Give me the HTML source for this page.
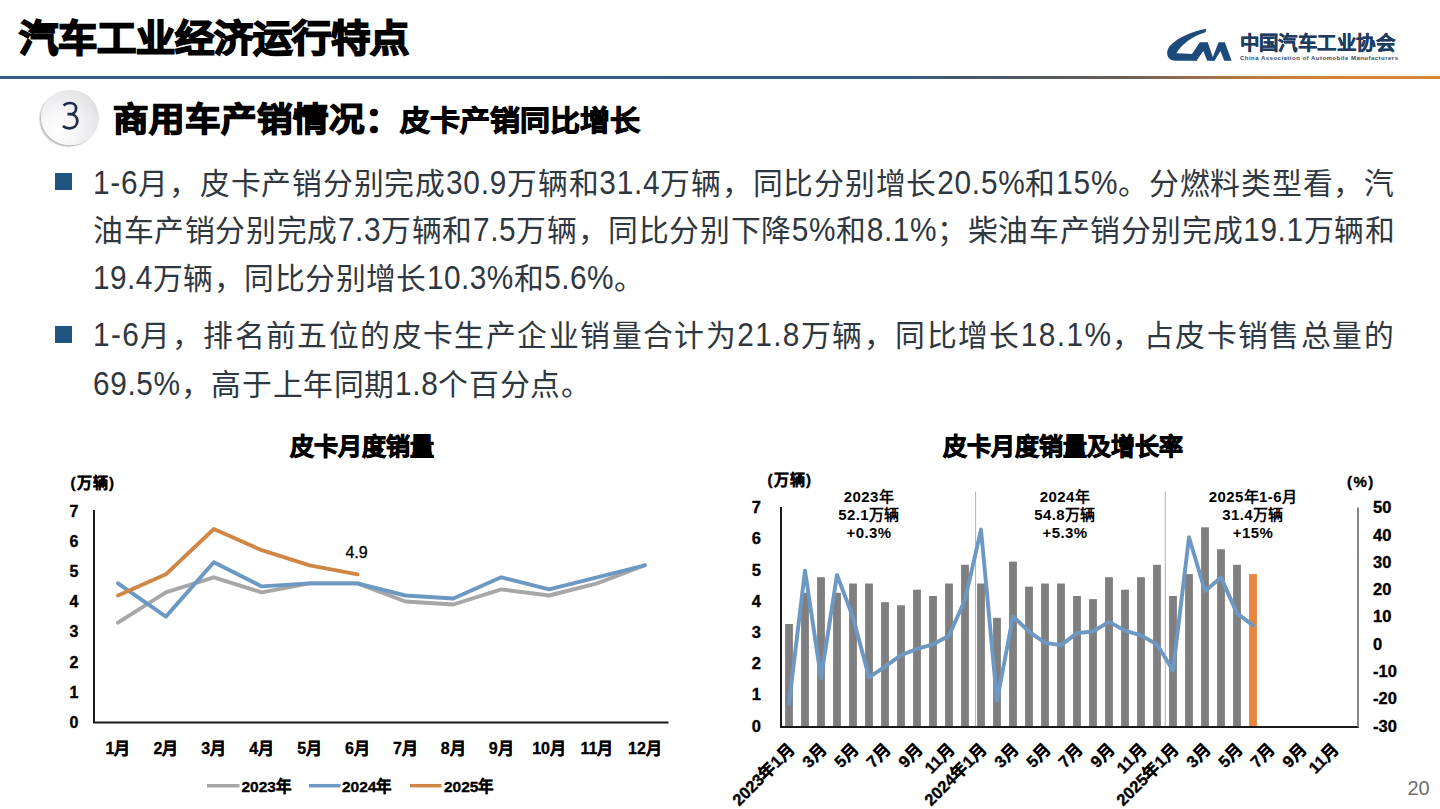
<!DOCTYPE html>
<html lang="zh-CN"><head><meta charset="utf-8">
<style>
*{margin:0;padding:0;box-sizing:border-box}
html,body{width:1440px;height:809px;overflow:hidden;background:#fff}
body{position:relative;font-family:"Liberation Sans",sans-serif;color:#000}
.abs{position:absolute;white-space:nowrap}
#title{left:19px;top:9.5px;font-size:39.3px;font-weight:700;-webkit-text-stroke:1.9px #000;line-height:56px;letter-spacing:0px;transform:scaleY(0.94);transform-origin:0 40px}
#hline{left:0;top:75.6px;width:1440px;height:3.6px;background:linear-gradient(90deg,#2f5f87 0%,#315f86 63.5%,#46566a 67%,#575a5e 73%,#6a5f58 78%,#8f6c4e 82%,#b87a44 87%,#d2843b 92%,#d8873a 100%)}
#circ{left:41px;top:89.5px;width:58px;height:55.5px;border-radius:50%;background:radial-gradient(circle at 30% 72%,#ffffff 0%,#f7f7f8 30%,#e6e6ea 70%,#d2d2d8 100%);box-shadow:-1.5px 1.5px 1.5px rgba(0,0,0,.28)}
#circ span{position:absolute;left:1px;top:-0.5px;width:58px;text-align:center;font-size:37px;line-height:55.5px;color:#1d2c45}
#h1{left:112.5px;top:97px;font-size:35.5px;font-weight:700;-webkit-text-stroke:1.5px #000;line-height:44px;transform:scaleY(0.93);transform-origin:0 35px}
#h2{left:400px;top:100.5px;font-size:30px;font-weight:700;-webkit-text-stroke:1.1px #000;line-height:40px;transform:scaleY(0.95);transform-origin:0 30px}
.bl{position:absolute;left:54.6px;width:17.7px;height:17.7px;background:#1f5580}
.tx{position:absolute;left:93px;font-size:29.8px;line-height:40px;color:#2f3740;white-space:nowrap}
.n{display:inline-block;transform:scaleY(1.12);transform-origin:0 30.5px}
</style></head><body>
<div id="title" class="abs">汽车工业经济运行特点</div>
<div id="hline" class="abs"></div>

<svg class="abs" style="left:1160px;top:20px" width="80" height="46" viewBox="0 0 1407 809">
<g fill="#1b4a7b"><path d="M815,155 C600,190 320,300 180,450 C90,545 110,715 270,715 L660,715 L600,600 L290,585 C360,450 560,280 800,215 Z"/><path d="M545,625 L700,390 L840,390 L950,715 L830,715 L762,545 L640,715 Z"/><path d="M915,690 L1030,390 L1140,390 L1260,715 L1130,715 L1062,545 L960,715 L930,715 Z"/></g>
</svg>
<div class="abs" style="left:1239.5px;top:28.5px;font-size:19.45px;font-weight:700;color:#1d3c62;line-height:28px;letter-spacing:0.45px;-webkit-text-stroke:0.45px #1d3c62">中国汽车工业协会</div>
<div class="abs" style="left:1240px;top:54px;font-size:6px;font-weight:700;color:#33476a;line-height:8px;letter-spacing:0.48px">China Association of Automobile Manufacturers</div>

<div id="circ" class="abs"></div>
<svg class="abs" style="left:61.5px;top:101.5px;overflow:visible" width="17" height="28" viewBox="0 0 17 28"><path d="M1.6,3.6 C3.2,1.8 5.6,1 8.1,1 C11.7,1 14.1,3.1 14.1,6.4 C14.1,9.9 11.4,12.2 7.6,12.2 L5.4,12.2 M7.6,12.2 C12.2,12.2 15.3,14.8 15.3,19 C15.3,23.4 12,26.3 7.6,26.3 C4.9,26.3 2.6,25.5 0.9,24" fill="none" stroke="#1d2c45" stroke-width="2.7" stroke-linecap="butt"/></svg>
<div id="h1" class="abs">商用车产销情况：</div>
<div id="h2" class="abs">皮卡产销同比增长</div>

<div class="bl" style="top:172.7px"></div>
<div class="tx" style="top:163.5px;letter-spacing:0.760px"><span class="n">1-6</span>月，皮卡产销分别完成<span class="n">30.9</span>万辆和<span class="n">31.4</span>万辆，同比分别增长<span class="n">20.5%</span>和<span class="n">15%</span>。分燃料类型看，汽</div>
<div class="tx" style="top:210.5px;letter-spacing:0.612px">油车产销分别完成<span class="n">7.3</span>万辆和<span class="n">7.5</span>万辆，同比分别下降<span class="n">5%</span>和<span class="n">8.1%</span>；柴油车产销分别完成<span class="n">19.1</span>万辆和</div>
<div class="tx" style="top:258.5px;letter-spacing:0.457px"><span class="n">19.4</span>万辆，同比分别增长<span class="n">10.3%</span>和<span class="n">5.6%</span>。</div>
<div class="tx" style="top:316px;letter-spacing:1.415px"><span class="n">1-6</span>月，排名前五位的皮卡生产企业销量合计为<span class="n">21.8</span>万辆，同比增长<span class="n">18.1%</span>，占皮卡销售总量的</div>
<div class="tx" style="top:365px;letter-spacing:0.632px"><span class="n">69.5%</span>，高于上年同期<span class="n">1.8</span>个百分点。</div>
<div class="bl" style="top:325.8px"></div>

<svg id="charts" class="abs" style="left:0;top:0" width="1440" height="809" viewBox="0 0 1440 809">
<text x="361.5" y="455.0" font-size="24" font-weight="700" text-anchor="middle" fill="#000" stroke="#000" stroke-width="0.9">皮卡月度销量</text>
<text x="70.5" y="488.3" font-size="15" font-weight="700" text-anchor="start" fill="#000" stroke="#000" stroke-width="0.35" letter-spacing="1.2">(万辆)</text>
<text x="74.0" y="727.9" font-size="16" font-weight="700" text-anchor="middle" fill="#000" stroke="#000" stroke-width="0.35">0</text>
<text x="74.0" y="697.7" font-size="16" font-weight="700" text-anchor="middle" fill="#000" stroke="#000" stroke-width="0.35">1</text>
<text x="74.0" y="667.5" font-size="16" font-weight="700" text-anchor="middle" fill="#000" stroke="#000" stroke-width="0.35">2</text>
<text x="74.0" y="637.3" font-size="16" font-weight="700" text-anchor="middle" fill="#000" stroke="#000" stroke-width="0.35">3</text>
<text x="74.0" y="607.1" font-size="16" font-weight="700" text-anchor="middle" fill="#000" stroke="#000" stroke-width="0.35">4</text>
<text x="74.0" y="576.9" font-size="16" font-weight="700" text-anchor="middle" fill="#000" stroke="#000" stroke-width="0.35">5</text>
<text x="74.0" y="546.7" font-size="16" font-weight="700" text-anchor="middle" fill="#000" stroke="#000" stroke-width="0.35">6</text>
<text x="74.0" y="516.5" font-size="16" font-weight="700" text-anchor="middle" fill="#000" stroke="#000" stroke-width="0.35">7</text>
<path d="M94,510 V722.5 H668.5" fill="none" stroke="#1a1a1a" stroke-width="2"/>
<text x="118.0" y="753.5" font-size="16" font-weight="700" text-anchor="middle" fill="#000" stroke="#000" stroke-width="0.35">1月</text>
<text x="165.9" y="753.5" font-size="16" font-weight="700" text-anchor="middle" fill="#000" stroke="#000" stroke-width="0.35">2月</text>
<text x="213.8" y="753.5" font-size="16" font-weight="700" text-anchor="middle" fill="#000" stroke="#000" stroke-width="0.35">3月</text>
<text x="261.7" y="753.5" font-size="16" font-weight="700" text-anchor="middle" fill="#000" stroke="#000" stroke-width="0.35">4月</text>
<text x="309.6" y="753.5" font-size="16" font-weight="700" text-anchor="middle" fill="#000" stroke="#000" stroke-width="0.35">5月</text>
<text x="357.5" y="753.5" font-size="16" font-weight="700" text-anchor="middle" fill="#000" stroke="#000" stroke-width="0.35">6月</text>
<text x="405.4" y="753.5" font-size="16" font-weight="700" text-anchor="middle" fill="#000" stroke="#000" stroke-width="0.35">7月</text>
<text x="453.3" y="753.5" font-size="16" font-weight="700" text-anchor="middle" fill="#000" stroke="#000" stroke-width="0.35">8月</text>
<text x="501.2" y="753.5" font-size="16" font-weight="700" text-anchor="middle" fill="#000" stroke="#000" stroke-width="0.35">9月</text>
<text x="549.1" y="753.5" font-size="16" font-weight="700" text-anchor="middle" fill="#000" stroke="#000" stroke-width="0.35">10月</text>
<text x="597.0" y="753.5" font-size="16" font-weight="700" text-anchor="middle" fill="#000" stroke="#000" stroke-width="0.35">11月</text>
<text x="644.9" y="753.5" font-size="16" font-weight="700" text-anchor="middle" fill="#000" stroke="#000" stroke-width="0.35">12月</text>
<polyline points="118.0,622.6 165.9,592.4 213.8,577.3 261.7,592.4 309.6,583.4 357.5,583.4 405.4,601.5 453.3,604.5 501.2,589.4 549.1,595.5 597.0,583.4 644.9,565.3" fill="none" stroke="#a7a7a7" stroke-width="3.9" stroke-linejoin="round" stroke-linecap="round"/>
<polyline points="118.0,583.4 165.9,616.6 213.8,562.2 261.7,586.4 309.6,583.4 357.5,583.4 405.4,595.5 453.3,598.5 501.2,577.3 549.1,589.4 597.0,577.3 644.9,565.3" fill="none" stroke="#6b99c3" stroke-width="3.9" stroke-linejoin="round" stroke-linecap="round"/>
<polyline points="118.0,595.5 165.9,574.3 213.8,529.0 261.7,550.2 309.6,565.3 357.5,574.3" fill="none" stroke="#d08745" stroke-width="3.9" stroke-linejoin="round" stroke-linecap="round"/>
<text x="356.5" y="558.0" font-size="16" font-weight="400" text-anchor="middle" fill="#000" stroke="#000" stroke-width="0.3">4.9</text>
<line x1="207" y1="785.7" x2="239.5" y2="785.7" stroke="#a7a7a7" stroke-width="3.5"/>
<text x="241.5" y="791.5" font-size="15.5" font-weight="700" text-anchor="start" fill="#000" stroke="#000" stroke-width="0.35">2023年</text>
<line x1="309" y1="785.7" x2="340.5" y2="785.7" stroke="#6b99c3" stroke-width="3.5"/>
<text x="342.0" y="791.5" font-size="15.5" font-weight="700" text-anchor="start" fill="#000" stroke="#000" stroke-width="0.35">2024年</text>
<line x1="410" y1="785.7" x2="441.5" y2="785.7" stroke="#d08745" stroke-width="3.5"/>
<text x="444.0" y="791.5" font-size="15.5" font-weight="700" text-anchor="start" fill="#000" stroke="#000" stroke-width="0.35">2025年</text>
<text x="1063.0" y="455.0" font-size="24" font-weight="700" text-anchor="middle" fill="#000" stroke="#000" stroke-width="0.9">皮卡月度销量及增长率</text>
<text x="767.5" y="485.3" font-size="15" font-weight="700" text-anchor="start" fill="#000" stroke="#000" stroke-width="0.35" letter-spacing="1.2">(万辆)</text>
<text x="1347.0" y="486.5" font-size="15" font-weight="700" text-anchor="start" fill="#000" stroke="#000" stroke-width="0.35" letter-spacing="1.5">(%)</text>
<rect x="785.10" y="624.0" width="7.8" height="103.0" fill="#7f7f7f"/>
<rect x="801.10" y="592.8" width="7.8" height="134.2" fill="#7f7f7f"/>
<rect x="817.10" y="577.2" width="7.8" height="149.8" fill="#7f7f7f"/>
<rect x="833.10" y="592.8" width="7.8" height="134.2" fill="#7f7f7f"/>
<rect x="849.10" y="583.5" width="7.8" height="143.5" fill="#7f7f7f"/>
<rect x="865.10" y="583.5" width="7.8" height="143.5" fill="#7f7f7f"/>
<rect x="881.10" y="602.2" width="7.8" height="124.8" fill="#7f7f7f"/>
<rect x="897.10" y="605.3" width="7.8" height="121.7" fill="#7f7f7f"/>
<rect x="913.10" y="589.7" width="7.8" height="137.3" fill="#7f7f7f"/>
<rect x="929.10" y="596.0" width="7.8" height="131.0" fill="#7f7f7f"/>
<rect x="945.10" y="583.5" width="7.8" height="143.5" fill="#7f7f7f"/>
<rect x="961.10" y="564.8" width="7.8" height="162.2" fill="#7f7f7f"/>
<rect x="977.10" y="583.5" width="7.8" height="143.5" fill="#7f7f7f"/>
<rect x="993.10" y="617.8" width="7.8" height="109.2" fill="#7f7f7f"/>
<rect x="1009.10" y="561.6" width="7.8" height="165.4" fill="#7f7f7f"/>
<rect x="1025.10" y="586.6" width="7.8" height="140.4" fill="#7f7f7f"/>
<rect x="1041.10" y="583.5" width="7.8" height="143.5" fill="#7f7f7f"/>
<rect x="1057.10" y="583.5" width="7.8" height="143.5" fill="#7f7f7f"/>
<rect x="1073.10" y="596.0" width="7.8" height="131.0" fill="#7f7f7f"/>
<rect x="1089.10" y="599.1" width="7.8" height="127.9" fill="#7f7f7f"/>
<rect x="1105.10" y="577.2" width="7.8" height="149.8" fill="#7f7f7f"/>
<rect x="1121.10" y="589.7" width="7.8" height="137.3" fill="#7f7f7f"/>
<rect x="1137.10" y="577.2" width="7.8" height="149.8" fill="#7f7f7f"/>
<rect x="1153.10" y="564.8" width="7.8" height="162.2" fill="#7f7f7f"/>
<rect x="1169.10" y="596.0" width="7.8" height="131.0" fill="#7f7f7f"/>
<rect x="1185.10" y="574.1" width="7.8" height="152.9" fill="#7f7f7f"/>
<rect x="1201.10" y="527.3" width="7.8" height="199.7" fill="#7f7f7f"/>
<rect x="1217.10" y="549.2" width="7.8" height="177.8" fill="#7f7f7f"/>
<rect x="1233.10" y="564.8" width="7.8" height="162.2" fill="#7f7f7f"/>
<rect x="1249.10" y="574.1" width="7.8" height="152.9" fill="#e8853e"/>
<line x1="975.6" y1="491.5" x2="975.6" y2="727" stroke="#9fb3cc" stroke-width="1"/>
<line x1="1165.3" y1="491.5" x2="1165.3" y2="727" stroke="#9fb3cc" stroke-width="1"/>
<polyline points="789.0,703.8 805.0,570.6 821.0,678.1 837.0,574.9 853.0,617.3 869.0,677.3 885.0,666.7 901.0,655.2 917.0,648.9 933.0,644.3 949.0,635.8 965.0,599.8 981.0,529.6 997.0,700.8 1013.0,616.4 1029.0,631.5 1045.0,642.9 1061.0,645.1 1077.0,633.1 1093.0,631.5 1109.0,621.9 1125.0,630.6 1141.0,635.3 1157.0,644.6 1173.0,670.5 1189.0,537.3 1205.0,591.0 1221.0,577.4 1237.0,613.4 1253.0,625.4" fill="none" stroke="#6c98c3" stroke-width="3.9" stroke-linejoin="round" stroke-linecap="round"/>
<path d="M781,507 V727 H1358.8" fill="none" stroke="#1a1a1a" stroke-width="2"/>
<line x1="1358" y1="507.5" x2="1358" y2="727" stroke="#7a7a7a" stroke-width="1.8"/>
<text x="756.3" y="731.6" font-size="16.5" font-weight="700" text-anchor="middle" fill="#000" stroke="#000" stroke-width="0.35">0</text>
<text x="756.3" y="700.4" font-size="16.5" font-weight="700" text-anchor="middle" fill="#000" stroke="#000" stroke-width="0.35">1</text>
<text x="756.3" y="669.2" font-size="16.5" font-weight="700" text-anchor="middle" fill="#000" stroke="#000" stroke-width="0.35">2</text>
<text x="756.3" y="638.0" font-size="16.5" font-weight="700" text-anchor="middle" fill="#000" stroke="#000" stroke-width="0.35">3</text>
<text x="756.3" y="606.8" font-size="16.5" font-weight="700" text-anchor="middle" fill="#000" stroke="#000" stroke-width="0.35">4</text>
<text x="756.3" y="575.6" font-size="16.5" font-weight="700" text-anchor="middle" fill="#000" stroke="#000" stroke-width="0.35">5</text>
<text x="756.3" y="544.4" font-size="16.5" font-weight="700" text-anchor="middle" fill="#000" stroke="#000" stroke-width="0.35">6</text>
<text x="756.3" y="513.2" font-size="16.5" font-weight="700" text-anchor="middle" fill="#000" stroke="#000" stroke-width="0.35">7</text>
<text x="1373.0" y="731.6" font-size="16.5" font-weight="700" text-anchor="start" fill="#000" stroke="#000" stroke-width="0.35">-30</text>
<text x="1373.0" y="704.3" font-size="16.5" font-weight="700" text-anchor="start" fill="#000" stroke="#000" stroke-width="0.35">-20</text>
<text x="1373.0" y="677.0" font-size="16.5" font-weight="700" text-anchor="start" fill="#000" stroke="#000" stroke-width="0.35">-10</text>
<text x="1373.0" y="649.7" font-size="16.5" font-weight="700" text-anchor="start" fill="#000" stroke="#000" stroke-width="0.35">0</text>
<text x="1373.0" y="622.4" font-size="16.5" font-weight="700" text-anchor="start" fill="#000" stroke="#000" stroke-width="0.35">10</text>
<text x="1373.0" y="595.1" font-size="16.5" font-weight="700" text-anchor="start" fill="#000" stroke="#000" stroke-width="0.35">20</text>
<text x="1373.0" y="567.8" font-size="16.5" font-weight="700" text-anchor="start" fill="#000" stroke="#000" stroke-width="0.35">30</text>
<text x="1373.0" y="540.5" font-size="16.5" font-weight="700" text-anchor="start" fill="#000" stroke="#000" stroke-width="0.35">40</text>
<text x="1373.0" y="513.2" font-size="16.5" font-weight="700" text-anchor="start" fill="#000" stroke="#000" stroke-width="0.35">50</text>
<text x="869.0" y="501.5" font-size="15" font-weight="700" text-anchor="middle" fill="#000" letter-spacing="0.4">2023年</text>
<text x="869.0" y="519.7" font-size="15" font-weight="700" text-anchor="middle" fill="#000" letter-spacing="0.4">52.1万辆</text>
<text x="869.0" y="537.9" font-size="15" font-weight="700" text-anchor="middle" fill="#000" letter-spacing="0.4">+0.3%</text>
<text x="1065.0" y="501.5" font-size="15" font-weight="700" text-anchor="middle" fill="#000" letter-spacing="0.4">2024年</text>
<text x="1065.0" y="519.7" font-size="15" font-weight="700" text-anchor="middle" fill="#000" letter-spacing="0.4">54.8万辆</text>
<text x="1065.0" y="537.9" font-size="15" font-weight="700" text-anchor="middle" fill="#000" letter-spacing="0.4">+5.3%</text>
<text x="1253.0" y="501.5" font-size="15" font-weight="700" text-anchor="middle" fill="#000" letter-spacing="0.4">2025年1-6月</text>
<text x="1253.0" y="519.7" font-size="15" font-weight="700" text-anchor="middle" fill="#000" letter-spacing="0.4">31.4万辆</text>
<text x="1253.0" y="537.9" font-size="15" font-weight="700" text-anchor="middle" fill="#000" letter-spacing="0.4">+15%</text>
<text x="0" y="0" font-size="16.5" font-weight="700" text-anchor="end" stroke="#000" stroke-width="0.35" transform="translate(795.8,750.3) rotate(-45)">2023年1月</text>
<text x="0" y="0" font-size="16.5" font-weight="700" text-anchor="end" stroke="#000" stroke-width="0.35" transform="translate(827.8,750.3) rotate(-45)">3月</text>
<text x="0" y="0" font-size="16.5" font-weight="700" text-anchor="end" stroke="#000" stroke-width="0.35" transform="translate(859.8,750.3) rotate(-45)">5月</text>
<text x="0" y="0" font-size="16.5" font-weight="700" text-anchor="end" stroke="#000" stroke-width="0.35" transform="translate(891.8,750.3) rotate(-45)">7月</text>
<text x="0" y="0" font-size="16.5" font-weight="700" text-anchor="end" stroke="#000" stroke-width="0.35" transform="translate(923.8,750.3) rotate(-45)">9月</text>
<text x="0" y="0" font-size="16.5" font-weight="700" text-anchor="end" stroke="#000" stroke-width="0.35" transform="translate(955.8,750.3) rotate(-45)">11月</text>
<text x="0" y="0" font-size="16.5" font-weight="700" text-anchor="end" stroke="#000" stroke-width="0.35" transform="translate(987.8,750.3) rotate(-45)">2024年1月</text>
<text x="0" y="0" font-size="16.5" font-weight="700" text-anchor="end" stroke="#000" stroke-width="0.35" transform="translate(1019.8,750.3) rotate(-45)">3月</text>
<text x="0" y="0" font-size="16.5" font-weight="700" text-anchor="end" stroke="#000" stroke-width="0.35" transform="translate(1051.8,750.3) rotate(-45)">5月</text>
<text x="0" y="0" font-size="16.5" font-weight="700" text-anchor="end" stroke="#000" stroke-width="0.35" transform="translate(1083.8,750.3) rotate(-45)">7月</text>
<text x="0" y="0" font-size="16.5" font-weight="700" text-anchor="end" stroke="#000" stroke-width="0.35" transform="translate(1115.8,750.3) rotate(-45)">9月</text>
<text x="0" y="0" font-size="16.5" font-weight="700" text-anchor="end" stroke="#000" stroke-width="0.35" transform="translate(1147.8,750.3) rotate(-45)">11月</text>
<text x="0" y="0" font-size="16.5" font-weight="700" text-anchor="end" stroke="#000" stroke-width="0.35" transform="translate(1179.8,750.3) rotate(-45)">2025年1月</text>
<text x="0" y="0" font-size="16.5" font-weight="700" text-anchor="end" stroke="#000" stroke-width="0.35" transform="translate(1211.8,750.3) rotate(-45)">3月</text>
<text x="0" y="0" font-size="16.5" font-weight="700" text-anchor="end" stroke="#000" stroke-width="0.35" transform="translate(1243.8,750.3) rotate(-45)">5月</text>
<text x="0" y="0" font-size="16.5" font-weight="700" text-anchor="end" stroke="#000" stroke-width="0.35" transform="translate(1275.8,750.3) rotate(-45)">7月</text>
<text x="0" y="0" font-size="16.5" font-weight="700" text-anchor="end" stroke="#000" stroke-width="0.35" transform="translate(1307.8,750.3) rotate(-45)">9月</text>
<text x="0" y="0" font-size="16.5" font-weight="700" text-anchor="end" stroke="#000" stroke-width="0.35" transform="translate(1339.8,750.3) rotate(-45)">11月</text>
</svg>
<div id="pnum" class="abs" style="left:1407.5px;top:775px;font-size:20px;line-height:26px;color:#6e6e6e">20</div>
</body></html>
